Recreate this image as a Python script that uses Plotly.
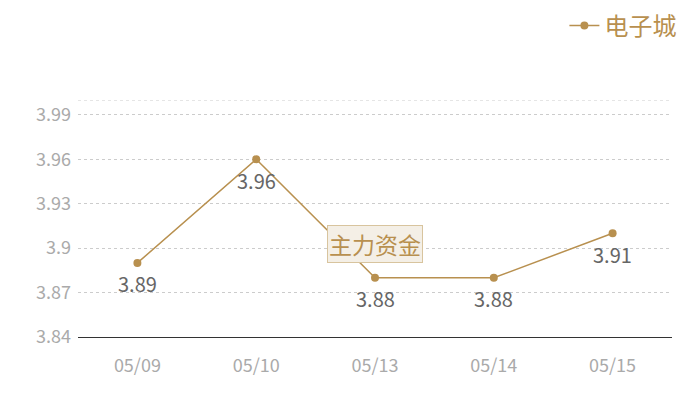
import plotly.graph_objects as go

dates = ["05/09", "05/10", "05/13", "05/14", "05/15"]
values = [3.89, 3.96, 3.88, 3.88, 3.91]
y_ticks = [3.84, 3.87, 3.90, 3.93, 3.96, 3.99]
y_tick_labels = ["3.84", "3.87", "3.9", "3.93", "3.96", "3.99"]
series_name = "电子城"
note_text = "主力资金"
note_date = "05/13"
note_value = 3.903

color = "#b8904f"
font = "Noto Sans CJK SC"

fig = go.Figure()
fig.add_trace(go.Scatter(
    x=dates, y=values, mode="lines+markers", name=series_name,
    line=dict(color=color, width=1.5),
    marker=dict(color=color, size=8),
))

for d, v in zip(dates, values):
    fig.add_annotation(x=d, y=v, text=str(v), showarrow=False, yshift=-21,
                       font=dict(color="#666666", size=20, family=font))

fig.add_annotation(
    x=note_date, y=note_value, text=note_text, showarrow=False,
    font=dict(color=color, size=23, family=font),
    bgcolor="#f4efe6", bordercolor="#d8c49e", borderwidth=1, borderpad=1,
)

fig.add_shape(type="line", xref="paper", yref="y", x0=0, x1=1, y0=4.0, y1=4.0,
              line=dict(color="#cccccc", width=1, dash="dot"))

fig.update_layout(
    width=700, height=400,
    margin=dict(l=70, r=36, t=92, b=71, autoexpand=False),
    paper_bgcolor="white", plot_bgcolor="white",
    font=dict(family=font),
    showlegend=True,
    legend=dict(x=0.962, xanchor="right", xref="container",
                y=0.955, yanchor="middle", yref="container",
                font=dict(color=color, size=24, family=font), bgcolor="rgba(0,0,0,0)",
                itemwidth=30),
    xaxis=dict(type="category", range=[-0.5, 4.5], showgrid=False,
               showline=True, linecolor="#333333", linewidth=1,
               ticks="", tickfont=dict(color="#aaaaaa", size=18, family=font),
               ticklabelstandoff=12),
    yaxis=dict(range=[3.84, 4.0], tickvals=y_ticks, ticktext=y_tick_labels,
               showgrid=True, gridcolor="#cccccc", griddash="dot", gridwidth=1,
               zeroline=False, showline=False, ticks="",
               tickfont=dict(color="#aaaaaa", size=18, family=font),
               ticklabelstandoff=6),
)

fig.write_html("out.html")
